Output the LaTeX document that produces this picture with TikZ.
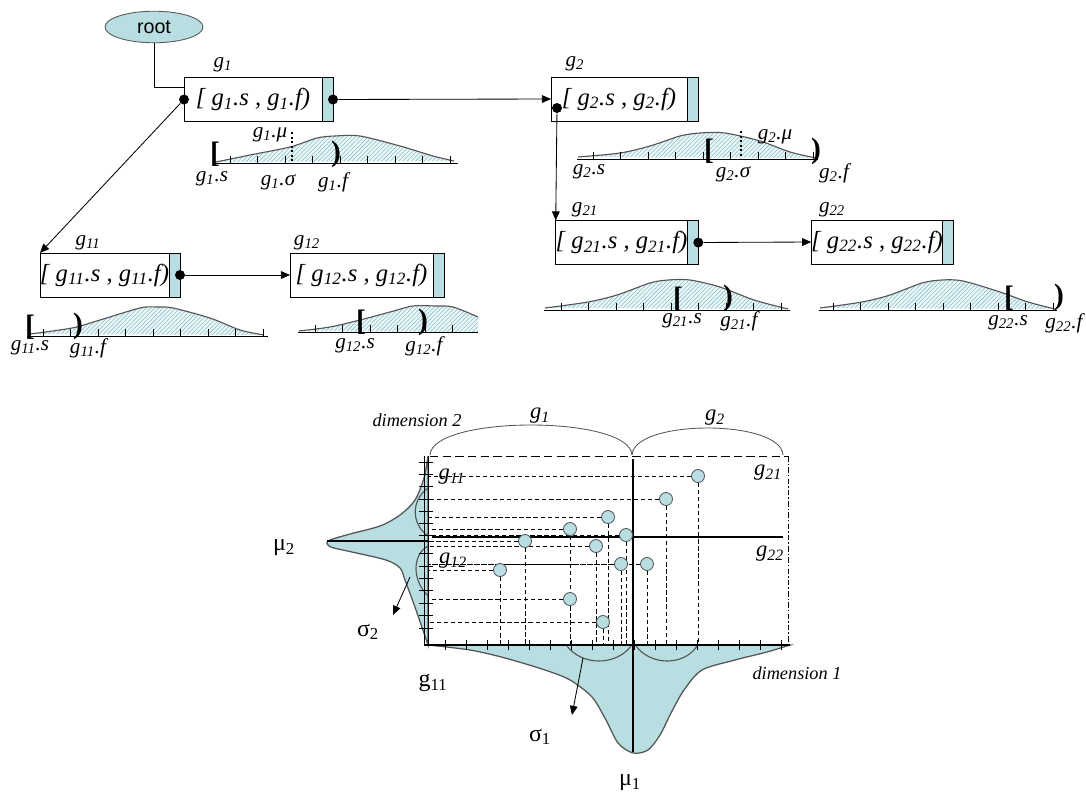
\documentclass[tikz,border=0pt]{standalone}
\usepackage{fontspec}
\setmainfont{Liberation Serif}
\newfontfamily\arialf{Liberation Sans}
\usepackage{tikz}
\usetikzlibrary{arrows.meta, positioning, patterns, shapes.geometric}

\definecolor{gcyan}{RGB}{184,222,226}
\definecolor{gline}{RGB}{85,85,85}
\definecolor{ghatch}{RGB}{135,192,204}
\newcommand{\pxl}{0.025cm}

\tikzset{
  gbox/.style={draw, minimum height=44*\pxl, inner sep=0pt, outer sep=0pt,
    font=\fontsize{17.5}{17.5}\selectfont\itshape},
  gbar/.style={draw, fill=gcyan, minimum width=11*\pxl, minimum height=44*\pxl,
    inner sep=0pt, outer sep=0pt},
  linkdot/.style={circle, fill=black, inner sep=0pt, minimum size=10*\pxl},
  garrow/.style={-{Triangle[length=6.5pt, width=5.5pt]}},
  glab/.style={font=\fontsize{15}{15}\selectfont\itshape, inner sep=1pt},
  dlab/.style={font=\fontsize{15}{15}\selectfont\itshape, inner sep=1pt},
  brk/.style={font=\fontsize{21}{21}\selectfont\bfseries, inner sep=0pt},
  gdist/.style={draw=gline, line width=0.8pt, preaction={fill=gcyan!25},
    preaction={pattern=north east lines, pattern color=ghatch}},
  hatchfill/.style={fill=gcyan!25, postaction={pattern=north east lines, pattern color=ghatch}},
  axisl/.style={line width=0.7pt},
  axtick/.style={line width=0.6pt},
  mudot/.style={line width=1.8pt, dash pattern=on 1.6pt off 1.6pt},
  marg/.style={fill=gcyan, draw=gline, line width=0.9pt},
  guide/.style={line width=0.6pt, dash pattern=on 3pt off 2pt},
  sample/.style={circle, draw=gline, fill=gcyan, inner sep=0pt, minimum size=13*\pxl},
  clab/.style={font=\fontsize{16}{16}\selectfont\itshape, inner sep=1pt},
  ulab/.style={font=\fontsize{17}{17}\selectfont, inner sep=1pt},
  dimlab/.style={font=\fontsize{13}{13}\selectfont\itshape, inner sep=1pt}
}

\begin{document}
\begin{tikzpicture}[x=\pxl, y=-\pxl, line width=0.6pt]
  \useasboundingbox (0,0) rectangle (1086,796);

  % tree of groups
  \node[ellipse, draw=gline, fill=gcyan, minimum width=98*\pxl, minimum height=31*\pxl,
    font=\arialf\fontsize{14}{14}\selectfont] (root) at (154,27) {root};

  \node[gbox, minimum width=138*\pxl] (g1) at (253,99.5) {[ g\textsubscript{1}.s , g\textsubscript{1}.f)};
  \node[gbar, right=0pt of g1] (g1b) {};
  \node[gbox, minimum width=136*\pxl] (g2) at (619,99) {[ g\textsubscript{2}.s , g\textsubscript{2}.f)};
  \node[gbar, right=0pt of g2] (g2b) {};
  \node[gbox, minimum width=127*\pxl] (g11) at (104.5,275) {[ g\textsubscript{11}.s , g\textsubscript{11}.f)};
  \node[gbar, right=0pt of g11] (g11b) {};
  \node[gbox, minimum width=143*\pxl] (g12) at (361.5,275) {[ g\textsubscript{12}.s , g\textsubscript{12}.f)};
  \node[gbar, right=0pt of g12] (g12b) {};
  \node[gbox, minimum width=129*\pxl] (g21) at (621.5,242.5) {[ g\textsubscript{21}.s , g\textsubscript{21}.f)};
  \node[gbar, right=0pt of g21] (g21b) {};
  \node[gbox, minimum width=128*\pxl] (g22) at (877,242) {[ g\textsubscript{22}.s , g\textsubscript{22}.f)};
  \node[gbar, right=0pt of g22] (g22b) {};

  \node[glab] (g1l) at (223,65) {g\textsubscript{1}};
  \node[glab] (g2l) at (575,64) {g\textsubscript{2}};
  \node[glab] (g11l) at (88,243) {g\textsubscript{11}};
  \node[glab] (g12l) at (307,243) {g\textsubscript{12}};
  \node[glab] (g21l) at (585,210) {g\textsubscript{21}};
  \node[glab] (g22l) at (832,210) {g\textsubscript{22}};

  \node[linkdot] (d1w) at (g1.west) {};
  \node[linkdot] (d1e) at (g1b.east) {};
  \node[linkdot] (d2) at (557,108) {};
  \node[linkdot] (d11) at (g11b.east) {};
  \node[linkdot] (d21) at (g21b.east) {};

  \draw (root.south) |- ([yshift=12*\pxl]g1.west);
  \draw[garrow] (d1e) -- (g2.west);
  \draw[garrow] (d1w) -- (g11.north west);
  \draw[garrow] (d2) -- (g21.north west);
  \draw[garrow] (d11) -- (g12.west);
  \draw[garrow] (d21) -- (g22.west);

  % g1 distribution
  \draw[gdist] plot[smooth] coordinates {(216,162) (250,155) (290,147) (317,138) (335,136) (360,136) (400,146) (433,156) (454,161)};
  \draw[axisl] (213,163) -- (458,163);
  \foreach \x in {230,257.5,...,452} \draw[axtick] (\x,156) -- (\x,164);
  \draw[mudot] (292,132) -- (292,163);
  \node[brk] (g1s) at (215,154) {[};
  \node[brk] (g1f) at (336,154) {)};
  \node[dlab] (g1sl) at (212,179) {g\textsubscript{1}.s};
  \node[dlab] (g1ol) at (278,182) {g\textsubscript{1}.σ};
  \node[dlab] (g1fl) at (333,182) {g\textsubscript{1}.f};
  \node[dlab] (g1ml) at (270,135) {g\textsubscript{1}.μ};

  % g2 distribution
  \draw[gdist] plot[smooth] coordinates {(578,157) (620,153) (650,146) (680,136) (700,133) (725,133) (760,141) (790,152) (816,158)};
  \draw[axisl] (577,159) -- (818,159);
  \foreach \x in {593,620.5,...,815} \draw[axtick] (\x,152) -- (\x,160);
  \draw[mudot] (741,131) -- (741,158);
  \node[brk] (g2s) at (709,151) {[};
  \node[brk] (g2f) at (816,151) {)};
  \node[dlab] (g2sl) at (589,172) {g\textsubscript{2}.s};
  \node[dlab] (g2ol) at (733,174) {g\textsubscript{2}.σ};
  \node[dlab] (g2fl) at (834,173) {g\textsubscript{2}.f};
  \node[dlab] (g2ml) at (775,137) {g\textsubscript{2}.μ};

  % g11 distribution
  \draw[gdist] plot[smooth] coordinates {(30,334) (72,328) (100,320) (140,308) (157,307) (173,308) (210,318) (240,330) (264,335)};
  \draw[axisl] (27,336) -- (268,336);
  \foreach \x in {43,70.5,...,265} \draw[axtick] (\x,329) -- (\x,337);
  \node[brk] (g11s) at (30,327) {[};
  \node[brk] (g11f) at (78,326) {)};
  \node[dlab] (g11sl) at (30,348) {g\textsubscript{11}.s};
  \node[dlab] (g11fl) at (88,348) {g\textsubscript{11}.f};

  % g12 distribution (cut at the right)
  \fill[hatchfill] plot[smooth] coordinates {(299,331) (330,327) (360,320) (390,312) (413,306) (435,306) (453,307) (478,317)} -- (478,332) -- cycle;
  \draw[gline, line width=0.8pt] plot[smooth] coordinates {(299,331) (330,327) (360,320) (390,312) (413,306) (435,306) (453,307) (478,317)};
  \draw[axisl] (298,332) -- (478,332);
  \foreach \x in {315,342.5,...,454} \draw[axtick] (\x,325) -- (\x,333);
  \node[brk] (g12s) at (361,322) {[};
  \node[brk] (g12f) at (423,322) {)};
  \node[dlab] (g12sl) at (355,346) {g\textsubscript{12}.s};
  \node[dlab] (g12fl) at (424,346) {g\textsubscript{12}.f};

  % g21 distribution
  \draw[gdist] plot[smooth] coordinates {(545,308) (588,302) (617,295) (650,283) (668,280) (690,280) (720,287) (754,300) (788,309)};
  \draw[axisl] (544,310) -- (790,310);
  \foreach \x in {561,588.5,...,783} \draw[axtick] (\x,303) -- (\x,311);
  \node[brk] (g21s) at (678,299) {[};
  \node[brk] (g21f) at (728,298) {)};
  \node[dlab] (g21sl) at (682,321) {g\textsubscript{21}.s};
  \node[dlab] (g21fl) at (739,321) {g\textsubscript{21}.f};

  % g22 distribution
  \draw[gdist] plot[smooth] coordinates {(820,308) (862,302) (890,295) (922,283) (942,280) (963,281) (1000,292) (1028,302) (1055,309)};
  \draw[axisl] (819,310) -- (1057,310);
  \foreach \x in {833,860.5,...,1055} \draw[axtick] (\x,303) -- (\x,311);
  \node[brk] (g22s) at (1009,298) {[};
  \node[brk] (g22f) at (1059,297) {)};
  \node[dlab] (g22sl) at (1008,323) {g\textsubscript{22}.s};
  \node[dlab] (g22fl) at (1064,323) {g\textsubscript{22}.f};

  % two-dimensional view: marginals
  \filldraw[marg] plot[smooth] coordinates {(428,456) (424,478) (415,500) (400,515) (380,526) (350,534) (328,541) (331,547) (352,552) (386,560) (400,568) (405,580) (416,610) (428,645)} -- cycle;
  \draw[gline, line width=0.8pt] (428,488) .. controls (411,500) and (411,524) .. (428,536);
  \draw[gline, line width=0.8pt] (428,546) .. controls (412,555) and (412,580) .. (428,596);
  \filldraw[marg] plot[smooth] coordinates {(428,645) (470,650) (505,658) (545,670) (570,680) (592,697) (606,720) (618,743) (633,753) (648,750) (660,735) (671,713) (684,690) (702,670) (735,660) (767,652) (790,645)} -- cycle;
  \draw[gline, line width=0.8pt] (567,646) .. controls (582,666) and (616,666) .. (631,646);
  \draw[gline, line width=0.8pt] (636,646) .. controls (651,666) and (684,666) .. (697,646);

  % frame and axes
  \coordinate (ax) at (428,645);
  \draw (424,456) -- (424,645);
  \draw (428,456) -- (428,645);
  \draw[line width=1.3pt] (424,645) -- (790,645);
  \draw[dash pattern=on 6pt off 3pt] (430,456) -- (788,456);
  \draw[dash pattern=on 4pt off 1.5pt on 1pt off 1.5pt] (788,456) -- (788,645);
  \foreach \y in {462,474,486,499,511,523,535,553,566,578,590,603,615,628} \draw (419,\y) -- (433,\y);
  \foreach \x in {445,466,...,781} \draw (\x,640) -- (\x,650);
  \draw[gline] (430,455) .. controls (432,415) and (630,415) .. (632,455);
  \draw[gline] (632,455) .. controls (634,419) and (781,419) .. (783,455);

  % samples
  \foreach \n/\x/\y in {1/698/476, 2/666/499, 3/608/517, 4/570/529, 5/626/535, 6/525/541,
      7/596/546, 8/621/564, 9/647/564, 10/500/570, 11/570/599, 12/603/622} {
    \coordinate (pc\n) at (\x,\y);
    \draw[guide] (pc\n) -- (pc\n -| ax);
    \draw[guide] (pc\n) -- (pc\n |- ax);
  }
  \draw[line width=2pt] (633,459) -- (633,752);
  \draw[line width=2pt] (432,537) -- (783,537);
  \draw[line width=2pt] (327,541) -- (428,541);
  \foreach \n in {1,...,12} \node[sample] (p\n) at (pc\n) {};

  % labels of the 2-d view
  \node[dimlab] (dim2) at (417,420) {dimension 2};
  \node[dimlab] (dim1) at (797,673) {dimension 1};
  \node[clab] (cg1) at (540,416) {g\textsubscript{1}};
  \node[clab] (cg2) at (715,418) {g\textsubscript{2}};
  \node[clab] (cg11) at (452,477) {g\textsubscript{11}};
  \node[clab] (cg21) at (768,473) {g\textsubscript{21}};
  \node[clab] (cg12) at (453,561) {g\textsubscript{12}};
  \node[clab] (cg22) at (770,554) {g\textsubscript{22}};
  \node[ulab] (mu2) at (284,548) {μ\textsubscript{2}};
  \node[ulab] (sig2) at (368,632) {σ\textsubscript{2}};
  \node[ulab] (g11c) at (433,683) {g\textsubscript{11}};
  \node[ulab] (sig1) at (540,737) {σ\textsubscript{1}};
  \node[ulab] (mu1) at (630,783) {μ\textsubscript{1}};

  \coordinate (s2a) at (410,577);
  \coordinate (s2b) at (393,615);
  \draw[garrow] (s2a) -- (s2b);
  \coordinate (s1a) at (583,658);
  \coordinate (s1b) at (572,715);
  \draw[garrow] (s1a) -- (s1b);
\end{tikzpicture}
\end{document}
